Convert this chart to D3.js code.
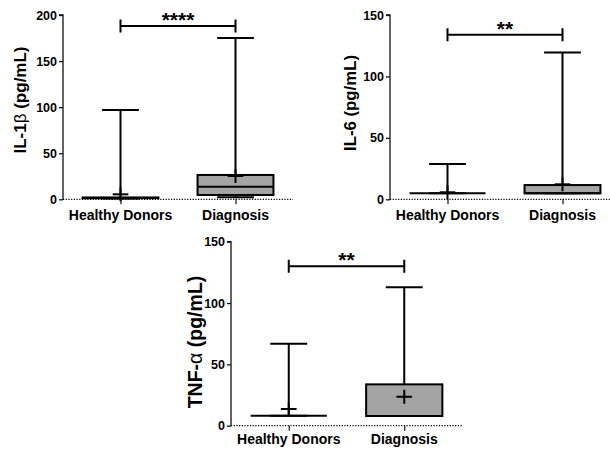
<!DOCTYPE html>
<html>
<head>
<meta charset="utf-8">
<script src="https://cdn.jsdelivr.net/npm/d3@7"></script>
<style>
  html, body { margin: 0; padding: 0; background: #fff; }
  svg { display: block; }
  text { font-family: "Liberation Sans", Arial, sans-serif; font-weight: bold; fill: #000; }
</style>
</head>
<body>
<svg id="chart" width="610" height="452"></svg>
<script>
// Groups on the x axis
const categories = ["Healthy Donors", "Diagnosis"];

// Cytokine names (axis label prefix, Greek suffix, unit)
const analyteNames = ["IL-1", "IL-6", "TNF-"];
const analyteGreek = ["β", "", "α"];
const unitLabel = " (pg/mL)";

// IL-1β (pg/mL): min, Q1, median, Q3, max, mean per group
const il1bMin    = [1.0, 2.2];
const il1bQ1     = [1.2, 4.7];
const il1bMedian = [1.5, 13.7];
const il1bQ3     = [2.0, 26.4];
const il1bMax    = [97, 175];
const il1bMean   = [5.4, 25.3];

// IL-6 (pg/mL)
const il6Min    = [4.9, 4.9];
const il6Q1     = [4.9, 4.9];
const il6Median = [4.9, 5.0];
const il6Q3     = [4.9, 11.6];
const il6Max    = [28.8, 119.5];
const il6Mean   = [5.7, 12.2];

// TNF-α (pg/mL)
const tnfMin    = [8.2, 7.9];
const tnfQ1     = [8.2, 7.9];
const tnfMedian = [8.2, 7.9];
const tnfQ3     = [8.2, 33.7];
const tnfMax    = [66.8, 112.8];
const tnfMean   = [13.6, 23.6];

// Y axis extents and ticks
const yMax = [200, 150, 150];
const yTicks = [[0, 50, 100, 150, 200], [0, 50, 100, 150], [0, 50, 100, 150]];

// Significance brackets: height (pg/mL) and label
const sigLevel = [188, 134, 130];
const sigStars = ["****", "**", "**"];

const seriesTable = [
  { min: il1bMin, q1: il1bQ1, med: il1bMedian, q3: il1bQ3, max: il1bMax, mean: il1bMean },
  { min: il6Min,  q1: il6Q1,  med: il6Median,  q3: il6Q3,  max: il6Max,  mean: il6Mean },
  { min: tnfMin,  q1: tnfQ1,  med: tnfMedian,  q3: tnfQ3,  max: tnfMax,  mean: tnfMean }
];

// Panel frames in pixels
const panels = [
  { x0: 63,  x1: 293, yTop: 15,    yBot: 199.3, labelX: 20,  labelY: 100, labelSize: 17,   xLabelY: 220 },
  { x0: 390, x1: 620, yTop: 15,    yBot: 199.3, labelX: 350, labelY: 103, labelSize: 16.8, xLabelY: 220 },
  { x0: 231, x1: 462, yTop: 241.7, yBot: 425.7, labelX: 195, labelY: 342, labelSize: 19.5, xLabelY: 444 }
];

const svg = d3.select("#chart");
const boxFill = "#a4a4a4";
const lw = 2;

panels.forEach((p, i) => {
  const s = seriesTable[i];
  const g = svg.append("g");

  const x = d3.scalePoint().domain(categories).range([p.x0, p.x1]).padding(0.5);
  const y = d3.scaleLinear().domain([0, yMax[i]]).range([p.yBot, p.yTop]);
  const span = p.x1 - p.x0;
  const boxW = span * 0.33;
  const capW = span * 0.16;
  const plusW = span * 0.068;
  const plusH = 7;

  // y axis
  const yAxis = d3.axisLeft(y).tickValues(yTicks[i]).tickSize(4).tickPadding(2).tickFormat(d3.format("d"));
  const ya = g.append("g").attr("transform", `translate(${p.x0},0)`).call(yAxis);
  ya.select(".domain").attr("stroke", "#111").attr("stroke-width", 1.3).attr("d", `M-4,${p.yTop}H0V${p.yBot}`);
  ya.selectAll(".tick line").attr("stroke", "#111").attr("stroke-width", 1.3);
  ya.selectAll(".tick text").style("font-size", "12.5px").style("font-family", "'Liberation Sans', Arial, sans-serif").style("font-weight", "bold").attr("fill", "#000");

  // y axis title
  const t = g.append("text")
    .attr("transform", `translate(${p.labelX},${p.labelY}) rotate(-90)`)
    .attr("text-anchor", "middle")
    .attr("dominant-baseline", "central")
    .style("font-size", p.labelSize + "px");
  t.append("tspan").text(analyteNames[i]);
  if (analyteGreek[i]) t.append("tspan").style("font-weight", "normal").text(analyteGreek[i]);
  t.append("tspan").text(unitLabel);

  // boxes, whiskers, caps, means
  categories.forEach((c, j) => {
    const cx = x(c);
    const lo = s.min[j], q1 = s.q1[j], med = s.med[j], q3 = s.q3[j], hi = s.max[j], mu = s.mean[j];
    // whiskers
    g.append("line").attr("x1", cx).attr("x2", cx).attr("y1", y(q3)).attr("y2", y(hi))
      .attr("stroke", "#000").attr("stroke-width", lw);
    g.append("line").attr("x1", cx).attr("x2", cx).attr("y1", y(q1)).attr("y2", y(lo))
      .attr("stroke", "#000").attr("stroke-width", lw);
    // caps
    [hi, lo].forEach(v => {
      g.append("line").attr("x1", cx - capW / 2).attr("x2", cx + capW / 2).attr("y1", y(v)).attr("y2", y(v))
        .attr("stroke", "#000").attr("stroke-width", lw);
    });
    // box
    g.append("rect").attr("x", cx - boxW / 2).attr("width", boxW)
      .attr("y", y(q3)).attr("height", Math.max(0, y(q1) - y(q3)))
      .attr("fill", boxFill).attr("stroke", "#000").attr("stroke-width", lw);
    // median
    g.append("line").attr("x1", cx - boxW / 2).attr("x2", cx + boxW / 2).attr("y1", y(med)).attr("y2", y(med))
      .attr("stroke", "#000").attr("stroke-width", lw);
    // mean marker
    g.append("line").attr("x1", cx - plusW / 2).attr("x2", cx + plusW / 2).attr("y1", y(mu)).attr("y2", y(mu))
      .attr("stroke", "#000").attr("stroke-width", lw);
    g.append("line").attr("x1", cx).attr("x2", cx).attr("y1", y(mu) - plusH).attr("y2", y(mu) + plusH)
      .attr("stroke", "#000").attr("stroke-width", lw);
  });

  // x axis: dotted baseline with category ticks
  g.append("line").attr("x1", p.x0).attr("x2", p.x1).attr("y1", y(0)).attr("y2", y(0))
    .attr("stroke", "#000").attr("stroke-width", 1.2).attr("stroke-dasharray", "1.2,1.5");
  const xAxis = d3.axisBottom(x).tickSize(5).tickPadding(5);
  const xa = g.append("g").attr("transform", `translate(0,${y(0)})`).call(xAxis);
  xa.select(".domain").remove();
  xa.selectAll(".tick line").attr("stroke", "#111").attr("stroke-width", 1.2);
  xa.selectAll(".tick text").remove();
  categories.forEach(c => {
    g.append("text").attr("x", x(c)).attr("y", p.xLabelY).attr("text-anchor", "middle")
      .style("font-size", "14px").text(c);
  });

  // significance bracket
  const xa0 = x(categories[0]), xb0 = x(categories[1]), ys = y(sigLevel[i]);
  g.append("path").attr("d", `M${xa0},${ys - 6.5}V${ys + 6.5}M${xa0},${ys}H${xb0}M${xb0},${ys - 6.5}V${ys + 6.5}`)
    .attr("stroke", "#000").attr("stroke-width", lw).attr("fill", "none");
  g.append("text").attr("x", (xa0 + xb0) / 2).attr("y", ys + 1).attr("text-anchor", "middle")
    .style("font-size", "21px").text(sigStars[i]);
});
</script>
</body>
</html>
